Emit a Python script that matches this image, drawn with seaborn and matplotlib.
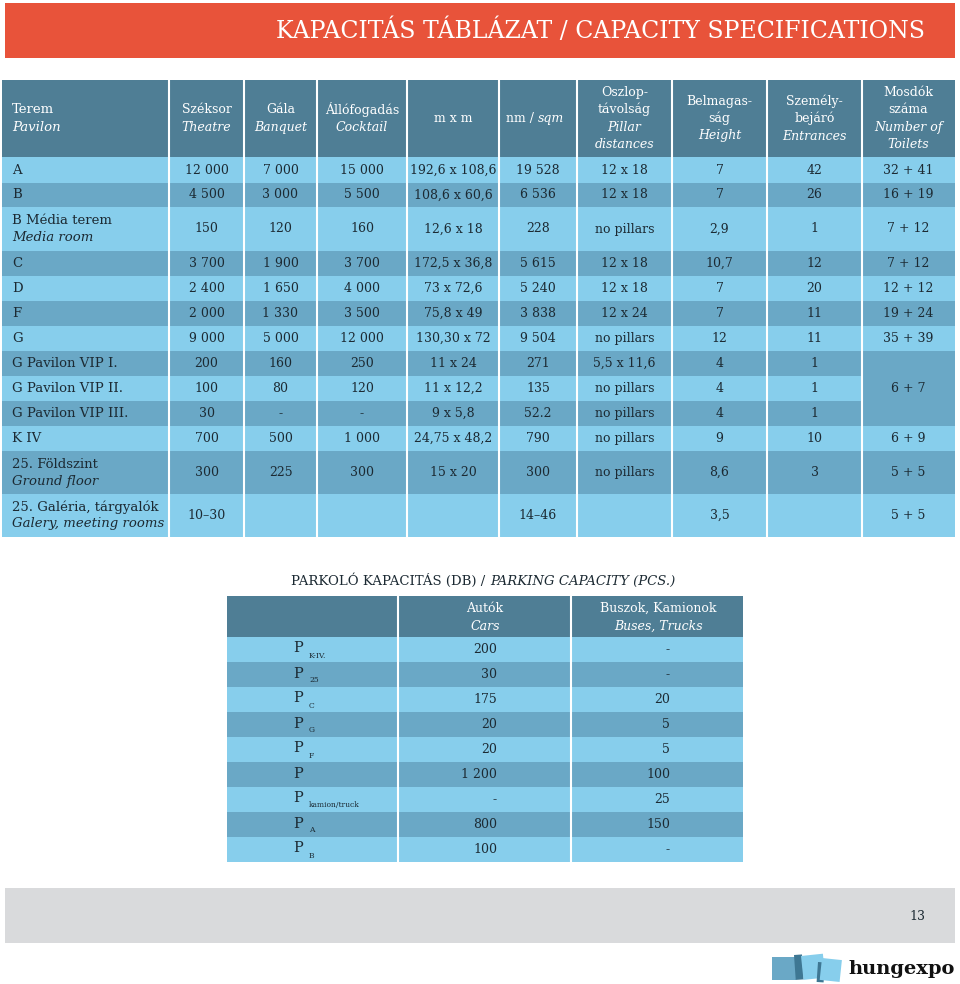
import numpy as np
import pandas as pd
import seaborn as sns
import matplotlib.pyplot as plt
from matplotlib.patches import Rectangle

# ---- data -------------------------------------------------------------
title = "KAPACITÁS TÁBLÁZAT / CAPACITY SPECIFICATIONS"

header_lines = [
    [("Terem", False), ("Pavilon", True)],
    [("Széksor", False), ("Theatre", True)],
    [("Gála", False), ("Banquet", True)],
    [("Állófogadás", False), ("Cocktail", True)],
    [("m x m", False)],
    [("nm / ", False)],
    [("Oszlop-", False), ("távolság", False), ("Pillar", True), ("distances", True)],
    [("Belmagas-", False), ("ság", False), ("Height", True)],
    [("Személy-", False), ("bejáró", False), ("Entrances", True)],
    [("Mosdók", False), ("száma", False), ("Number of", True), ("Toilets", True)],
]

room_hu = ["A", "B", "B Média terem", "C", "D", "F", "G", "G Pavilon VIP I.",
           "G Pavilon VIP II.", "G Pavilon VIP III.", "K IV", "25. Földszint",
           "25. Galéria, tárgyalók"]
room_en = ["", "", "Media room", "", "", "", "", "", "", "", "", "Ground floor",
           "Galery, meeting rooms"]
theatre = ["12 000", "4 500", "150", "3 700", "2 400", "2 000", "9 000", "200",
           "100", "30", "700", "300", "10–30"]
banquet = ["7 000", "3 000", "120", "1 900", "1 650", "1 330", "5 000", "160",
           "80", "-", "500", "225", ""]
cocktail = ["15 000", "5 500", "160", "3 700", "4 000", "3 500", "12 000", "250",
            "120", "-", "1 000", "300", ""]
dims = ["192,6 x 108,6", "108,6 x 60,6", "12,6 x 18", "172,5 x 36,8", "73 x 72,6",
        "75,8 x 49", "130,30 x 72", "11 x 24", "11 x 12,2", "9 x 5,8",
        "24,75 x 48,2", "15 x 20", ""]
area = ["19 528", "6 536", "228", "5 615", "5 240", "3 838", "9 504", "271",
        "135", "52.2", "790", "300", "14–46"]
pillars = ["12 x 18", "12 x 18", "no pillars", "12 x 18", "12 x 18", "12 x 24",
           "no pillars", "5,5 x 11,6", "no pillars", "no pillars", "no pillars",
           "no pillars", ""]
height = ["7", "7", "2,9", "10,7", "7", "7", "12", "4", "4", "4", "9", "8,6", "3,5"]
entrances = ["42", "26", "1", "12", "20", "11", "11", "1", "1", "1", "10", "3", ""]
toilets = ["32 + 41", "16 + 19", "7 + 12", "7 + 12", "12 + 12", "19 + 24",
           "35 + 39", "6 + 7", None, None, "6 + 9", "5 + 5", "5 + 5"]

park_title_hu = "PARKOLÓ KAPACITÁS (DB) /"
park_title_en = "PARKING CAPACITY (PCS.)"
park_sub = ["K-IV.", "25", "C", "G", "F", "", "kamion/truck", "A", "B"]
park_cars = ["200", "30", "175", "20", "20", "1 200", "-", "800", "100"]
park_buses = ["-", "-", "20", "5", "5", "100", "25", "150", "-"]

df = pd.DataFrame({"theatre": theatre, "banquet": banquet, "cocktail": cocktail,
                   "dims": dims, "area": area, "pillars": pillars,
                   "height": height, "entrances": entrances, "toilets": toilets})

# ---- style ------------------------------------------------------------
sns.set_theme(style="white")
plt.rcParams['font.family'] = ['DejaVu Serif']

RED = "#E8533A"
HEAD = "#4F7E95"
LIGHT = "#87CEEC"
DARK = "#6AA8C6"
INK = "#1c2a33"
GREY = "#D9DADC"

fig = plt.figure(figsize=(9.6, 9.84), dpi=100)
ax = fig.add_axes([0, 0, 1, 1])
ax.set_xlim(0, 960)
ax.set_ylim(984, 0)
ax.axis('off')

# title banner
ax.add_patch(Rectangle((5, 3), 950, 55, color=RED, lw=0))
ax.text(925, 31, title, color="white", fontsize=17, ha="right", va="center")

# ---- main table -------------------------------------------------------
col_x = [2, 169, 244, 317, 407, 499, 577, 672, 767, 862, 955]
row_y = [157, 183, 207, 251, 276, 301, 326, 351, 376, 401, 426, 451, 494, 537]
head_top = 80
fs = 9

ax.add_patch(Rectangle((col_x[0], head_top), col_x[-1] - col_x[0],
                       row_y[0] - head_top, color=HEAD, lw=0))
for i in range(len(room_hu)):
    c = LIGHT if i % 2 == 0 else DARK
    ax.add_patch(Rectangle((col_x[0], row_y[i]), col_x[-1] - col_x[0],
                           row_y[i + 1] - row_y[i], color=c, lw=0))
# merged toilet cell for VIP rows
ax.add_patch(Rectangle((col_x[9], row_y[7]), col_x[10] - col_x[9],
                       row_y[10] - row_y[7], color=DARK, lw=0))
for x in col_x[1:-1]:
    ax.plot([x, x], [head_top, row_y[-1]], color="white", lw=1.5)

# header text
lh = 17.5
hc = (head_top + row_y[0]) / 2
for j, lines in enumerate(header_lines):
    n = len(lines)
    for k, (txt, it) in enumerate(lines):
        y = hc + (k - (n - 1) / 2) * lh
        if j == 0:
            ax.text(12, y, txt, color="white", fontsize=fs + 0.5, va="center",
                    style="italic" if it else "normal")
        else:
            cx = (col_x[j] + col_x[j + 1]) / 2
            if j == 5:
                ax.text(cx, y, "nm / ", color="white", fontsize=fs, va="center",
                        ha="right")
                ax.text(cx, y, "sqm", color="white", fontsize=fs, va="center",
                        ha="left", style="italic")
            else:
                ax.text(cx, y, txt, color="white", fontsize=fs, va="center",
                        ha="center", style="italic" if it else "normal")

# body text
for i in range(len(room_hu)):
    yc = (row_y[i] + row_y[i + 1]) / 2
    if room_en[i]:
        ax.text(12, yc - 8.5, room_hu[i], color=INK, fontsize=fs + 0.5, va="center")
        ax.text(12, yc + 8.5, room_en[i], color=INK, fontsize=fs + 0.5, va="center",
                style="italic")
    else:
        ax.text(12, yc, room_hu[i], color=INK, fontsize=fs + 0.5, va="center")
    for j, col in enumerate(df.columns, start=1):
        val = df[col].iloc[i]
        if val is None or val == "":
            continue
        y = yc
        if col == "toilets" and i == 7:
            y = (row_y[7] + row_y[10]) / 2
        cx = (col_x[j] + col_x[j + 1]) / 2
        ax.text(cx, y, val, color=INK, fontsize=fs, va="center", ha="center")

# ---- parking table ----------------------------------------------------
pc_x = [227, 398, 571, 743]
ph_top, ph_bot, prow = 596, 637, 25

ax.text(485, 581, park_title_hu, color=INK, fontsize=fs + 0.5, ha="right",
        va="center")
ax.text(490, 581, park_title_en, color=INK, fontsize=fs + 0.5, ha="left",
        va="center", style="italic")

ax.add_patch(Rectangle((pc_x[0], ph_top), pc_x[-1] - pc_x[0], ph_bot - ph_top,
                       color=HEAD, lw=0))
for i in range(len(park_cars)):
    c = LIGHT if i % 2 == 0 else DARK
    ax.add_patch(Rectangle((pc_x[0], ph_bot + i * prow), pc_x[-1] - pc_x[0],
                           prow, color=c, lw=0))
pend = ph_bot + prow * len(park_cars)
for x in pc_x[1:-1]:
    ax.plot([x, x], [ph_top, pend], color="white", lw=1.5)

ax.text(485, 608, "Autók", color="white", fontsize=fs, ha="center", va="center")
ax.text(485, 626, "Cars", color="white", fontsize=fs, ha="center", va="center",
        style="italic")
ax.text(658, 608, "Buszok, Kamionok", color="white", fontsize=fs, ha="center",
        va="center")
ax.text(658, 626, "Buses, Trucks", color="white", fontsize=fs, ha="center",
        va="center", style="italic")

for i in range(len(park_cars)):
    yc = ph_bot + i * prow + prow / 2
    ax.text(293, yc - 1, "P", color=INK, fontsize=fs + 1.5, va="center")
    if park_sub[i]:
        ax.text(309, yc + 6, park_sub[i], color=INK, fontsize=5.5, va="center")
    ax.text(497, yc, park_cars[i], color=INK, fontsize=fs, ha="right", va="center")
    ax.text(670, yc, park_buses[i], color=INK, fontsize=fs, ha="right", va="center")

# ---- footer -----------------------------------------------------------
ax.add_patch(Rectangle((5, 888), 950, 55, color=GREY, lw=0))
ax.text(917, 916, "13", color=INK, fontsize=fs, ha="center", va="center")

ax.add_patch(Rectangle((772, 957), 24, 23, color="#6AA8C6", lw=0))
ax.add_patch(Rectangle((794, 955), 8, 25, angle=-4, color="#3E7793", lw=0))
ax.add_patch(Rectangle((801, 956), 22, 24, angle=-6, color="#87CEEC", lw=0))
ax.add_patch(Rectangle((818, 962), 7, 20, angle=4, color="#3E7793", lw=0))
ax.add_patch(Rectangle((822, 958), 20, 22, angle=6, color="#87CEEC", lw=0))
ax.text(848, 969, "hungexpo", color="#111111", fontsize=14, fontweight="bold",
        ha="left", va="center")

fig.savefig("out.png", dpi=100)
